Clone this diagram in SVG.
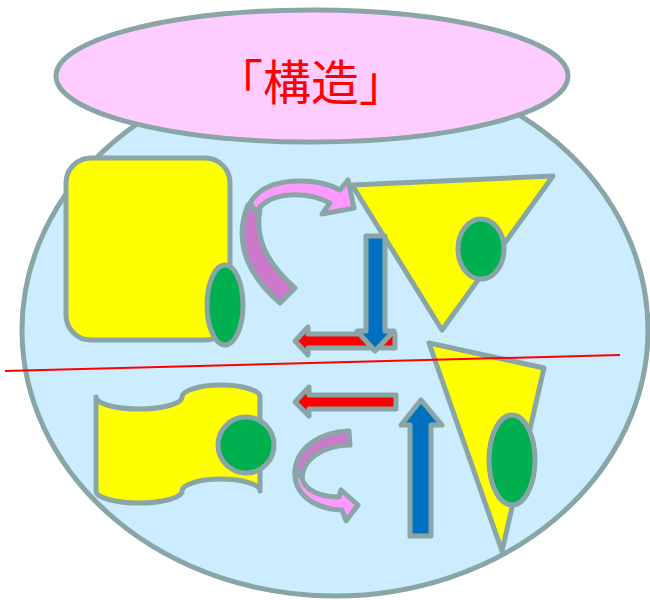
<svg xmlns="http://www.w3.org/2000/svg" width="650" height="600" viewBox="0 0 650 600">
<defs>
<style>
.sh{stroke:#8AA5A6;stroke-width:5;stroke-linejoin:round}
.yel{fill:#FFFF00}
.grn{fill:#00B050}
.blu{fill:#0070C0}
.red{fill:#FF0000}
.lp{fill:#FF99FF}
.dp{fill:#CC79CC}
.title{font-family:"Noto Sans CJK JP","Noto Sans CJK SC",sans-serif;font-size:48px;fill:#FF0000;text-anchor:middle}
</style>
</defs>
<rect width="650" height="600" fill="#FFFFFF"/>
<g id="world">
<ellipse class="sh" cx="335" cy="330" rx="313" ry="266" fill="#CCECFF"/>
</g>
<g id="title">
<ellipse class="sh" cx="312" cy="76" rx="256" ry="66" fill="#FFCCFF"/>
<text class="title" x="311" y="100">「構造」</text>
</g>
<g id="box">
<rect class="sh yel" x="66" y="158" width="164" height="182" rx="25"/>
<ellipse class="sh grn" cx="225" cy="305" rx="18" ry="40"/>
</g>
<g id="tri-top">
<polygon class="sh yel" points="352,185 553,176 442,330"/>
<ellipse class="sh grn" cx="481" cy="249" rx="23" ry="30"/>
</g>
<g id="flag">
<path class="sh yel" d="M96,397 A43,12 0 0 0 182,397 A39,12 0 0 1 260,397 L260,491 A39,12 0 0 0 182,491 A43,12 0 0 1 96,491 Z"/>
<circle class="sh grn" cx="246" cy="445" r="28"/>
</g>
<g id="tri-bottom">
<polygon class="sh yel" points="429,343 544,368 502,551"/>
<ellipse class="sh grn" cx="512" cy="460" rx="23" ry="45"/>
</g>
<g id="connectors">
<path class="sh dp" d="M248,205 C236,235 240,268 280,303 L295,288 C265,262 255,235 260,210 Z"/>
<path class="sh lp" d="M250,203 C260,186 280,181 300,181 C320,181 333,186 340,190 L348,180 L354,208 L322,214 L330,203 C318,197 305,194 290,195 C272,196 262,203 256,212 Z"/>
<polygon class="sh red" points="395,334 308,334 308,327 295,341 308,355 308,348 395,348"/>
<polygon class="sh blu" points="366,236 385,236 385,331 394,331 375,351 357,331 366,331"/>
<polygon class="sh red" points="396,395 309,395 309,387 295,402 309,416 309,409 396,409"/>
<polygon class="sh blu" points="410,536 410,425 401,425 421,400 442,425 431,425 431,536"/>
<path class="sh dp" d="M349,431 C320,432 296,448 295,472 L302,478 C303,460 320,446 350,445 Z"/>
<path class="sh lp" d="M295,470 C293,495 315,509 342,510 L346,521 L358,505 L341,490 L339,497 C320,497 304,490 302,478 Z"/>
</g>
<g id="divider">
<line x1="5" y1="371" x2="620" y2="355" stroke="#FF0000" stroke-width="2"/>
</g>
</svg>
